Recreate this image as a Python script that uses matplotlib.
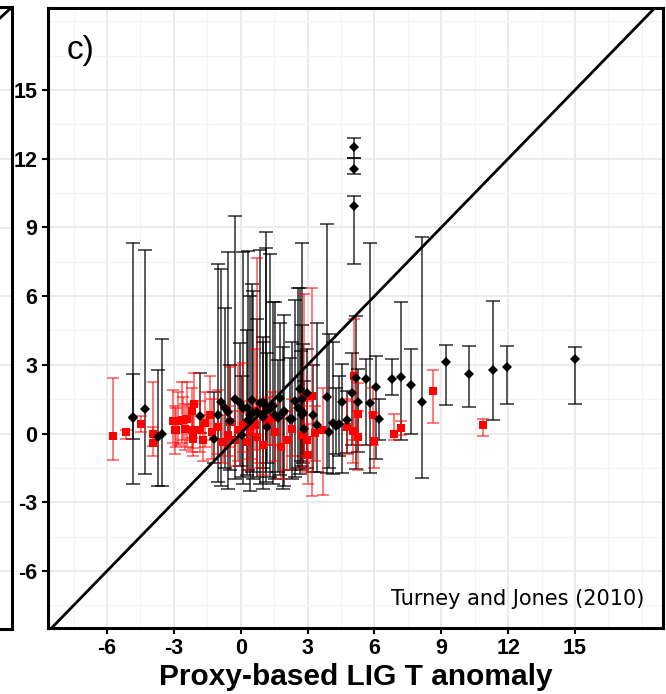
import matplotlib
matplotlib.use("Agg")
import matplotlib.pyplot as plt
from matplotlib.lines import Line2D
import numpy as np

plt.rcParams["axes.unicode_minus"] = False

# ---------------- data ----------------
# black diamonds: model vs proxy (x, y, lower, upper)
blk_x = [-4.85, -4.85, -4.3, -3.72, -3.54, -1.83, -1.18,
         -1.0, -0.88, -0.7, -0.58, -0.48, -0.26, -0.03, 0.04, 0.12, 0.27, 0.34, 0.42,
         0.49, 0.54, 0.72, 0.87, 0.99, 1.01, 1.12, 1.13, 1.17, 1.31, 1.46, 1.54, 1.69,
         1.76, 1.91, 1.96, 2.21, 2.29, 2.43, 2.58, 2.66, 2.7, 2.73, 2.76, 2.81, 2.85,
         2.96, 3.23, 3.44, 3.86, 3.95, 4.14, 4.28, 4.41, 4.53, 4.78, 4.98,
         5.08, 5.08, 5.08, 5.17, 5.24, 5.62, 5.8, 6.08, 6.19,
         6.8, 7.18, 7.63, 8.12, 9.22, 10.23, 11.31, 11.95, 15.0]
blk_y = [0.69, 0.72, 1.07, -0.13, -0.02, 0.77, -0.24,
         0.81, 1.39, 1.1, 0.96, 0.55, 1.51, 1.32, -0.06, 1.1, 1.1, 0.59, 0.81,
         1.47, 0.9, 0.96, 1.32, 1.39, 0.74, 1.0, 1.2, 0.3, 1.07, 1.2, 0.8, 0.67,
         1.54, 0.91, 1.0, 0.62, 0.64, 1.42, 1.1, 1.95, 1.03, 0.8, 1.5, 0.89, 0.19,
         1.79, 0.81, 0.38, 1.61, 0.07, 0.48, 0.35, 0.41, 1.38, 0.59, 1.79,
         12.53, 11.57, 9.94, 2.41, 1.38, 2.38, 1.32, 2.02, 0.62,
         2.38, 2.49, 2.12, 1.38, 3.14, 2.59, 2.78, 2.92, 3.24]
blk_lo = [-2.2, -0.24, -1.75, -2.29, -2.29, 0.02, -1.3,
          -2.1, -2.3, -1.5, -2.4, -1.6, -2.0, -1.4, -1.9, -2.2, -1.8, -1.6, -2.5,
          -1.7, -2.0, -1.9, -2.2, -1.5, -2.4, -1.7, -2.1, -1.3, -1.9, -2.2, -2.0, -1.7,
          -1.8, -2.4, -2.3, -1.6, -2.0, -1.88, -1.5, -1.78, -1.2, -1.4, -1.6, -1.3, -1.0,
          -1.52, -1.7, -1.66, -1.73, -1.5, -1.76, -0.9, -1.0, -1.73, -0.83, -0.5,
          12.02, 11.32, 7.39, -1.55, -0.8, -0.5, -1.73, -1.12, -0.3,
          1.67, -0.28, -0.02, -1.93, 1.25, 1.16, 0.59, 1.29, 1.29]
blk_hi = [8.31, 2.6, 8.03, 2.78, 4.14, 2.66, 1.8,
          7.39, 7.19, 5.5, 7.92, 3.0, 9.5, 3.96, 2.5, 7.92, 4.5, 7.99, 6.0,
          6.52, 6.23, 5.0, 8.02, 4.2, 4.0, 8.12, 8.79, 3.5, 7.83, 5.73, 5.75, 3.2,
          4.82, 3.8, 5.18, 3.3, 4.0, 5.83, 6.37, 6.36, 3.6, 4.72, 8.32, 3.9, 2.3,
          3.7, 3.0, 4.82, 9.13, 4.35, 3.99, 2.0, 2.5, 3.03, 1.86, 3.5,
          12.92, 12.02, 10.35, 5.13, 2.8, 3.26, 8.32, 3.4, 1.5,
          3.27, 5.74, 3.68, 8.6, 3.87, 3.83, 5.8, 3.83, 3.78]

# red squares: second data set (x, y, lower, upper)
red_x = [-5.75, -5.15, -4.47, -3.92, -3.92, -3.05, -2.9, -2.65, -2.5, -2.4, -2.08,
         -2.2, -2.2, -2.15, -2.83, -2.95, -2.57, -2.13, -1.6, -1.38, -1.3, -1.68,
         -1.83, -1.0, -0.78, -0.48, -0.56, -0.11, -0.26, 0.12, 0.42, 0.72, 0.27,
         0.64, 0.75, 1.0, 1.24, 1.39, 1.54, 1.8, 2.06, 2.3, 2.74, 2.85, 2.96, 3.03,
         3.2, 3.33, 3.71, 4.78, 5.05, 5.1, 5.26, 5.28, 5.95, 5.98,
         6.9, 7.19, 8.64, 10.86]
red_y = [-0.09, 0.08, 0.41, -0.03, -0.42, 0.55, 0.16, 0.59, 0.2, 0.62, 1.29,
         0.99, 0.16, -0.25, 0.55, 0.16, 0.59, 0.08, 0.45, 0.81, 0.08, -0.28,
         0.16, 0.3, -0.35, 0.52, -0.06, 0.16, -0.28, 0.38, 0.08, -0.13, -0.35,
         0.38, 1.0, -0.5, 0.52, 0.67, 0.08, -0.6, -0.28, 0.2, -0.06, 1.61, -0.28, -0.93,
         1.66, 0.01, 0.16, 0.3, 0.11, 2.5, 0.84, -0.16, 0.81, -0.31,
         -0.03, 0.26, 1.86, 0.36]
red_lo = [-1.15, -0.24, 0.06, -0.54, -0.98, -0.41, -0.6, -0.41, -0.7, -0.57, 0.3,
          -0.2, -0.8, -0.64, -0.5, -0.9, -0.3, -1.0, -0.6, -0.3, -1.1, -1.2,
          -0.8, -0.9, -1.3, -0.6, -1.0, -1.2, -1.4, -0.8, -1.1, -1.3, -1.6,
          -0.7, -1.5, -1.8, -0.5, -0.5, -1.2, -2.0, -1.6, -1.0, -1.5, -1.0, -1.7, -2.2,
          -2.72, -1.2, -2.68, -0.9, -1.3, -0.3, -0.5, -1.6, -0.5, -1.5,
          -0.3, -0.05, 0.45, -0.1]
red_hi = [2.41, 0.15, 0.78, 2.27, 0.3, 1.9, 1.1, 2.27, 1.3, 2.27, 2.63,
          2.0, 1.2, 0.3, 1.8, 1.2, 1.6, 1.3, 1.8, 2.5, 1.5, 0.8,
          1.4, 1.9, 0.8, 2.9, 1.2, 3.0, 1.0, 3.1, 1.4, 1.1, 0.9,
          3.7, 7.66, 0.6, 1.6, 1.8, 1.3, 0.7, 1.0, 1.5, 1.2, 6.08, 1.4, 0.4,
          6.34, 1.2, 2.0, 1.5, 1.4, 5.0, 2.2, 1.0, 2.0, 0.9,
          0.87, 0.55, 2.79, 0.64]

x_ticks = [-6, -3, 0, 3, 6, 9, 12, 15]
y_ticks = [-6, -3, 0, 3, 6, 9, 12, 15]
minor_ticks = [-7.5, -4.5, -1.5, 1.5, 4.5, 7.5, 10.5, 13.5, 16.5, 18]
xlim = (-8.65, 18.95)
ylim = (-8.49, 18.58)

# ---------------- figure ----------------
W, H = 666, 694
fig = plt.figure(figsize=(W / 100, H / 100), dpi=100)
L, R, T, B = 48, 663, 8, 628
ax = fig.add_axes([L / W, 1 - B / H, (R - L) / W, (B - T) / H])
ax.set_facecolor("white")

ax.set_xlim(*xlim)
ax.set_ylim(*ylim)
ax.set_xticks(x_ticks)
ax.set_yticks(y_ticks)
ax.set_xticks(minor_ticks, minor=True)
ax.set_yticks(minor_ticks, minor=True)
ax.grid(which="major", color="#E6E6E6", linewidth=1.1, zorder=0)
ax.grid(which="minor", color="#F4F4F4", linewidth=0.9, zorder=0)
ax.set_axisbelow(True)
ax.tick_params(which="minor", length=0)
ax.tick_params(which="major", length=4.5, width=1.5, direction="out", pad=3,
               labelsize=15.5)
for lab in ax.get_xticklabels() + ax.get_yticklabels():
    lab.set_fontfamily("Liberation Sans")
    lab.set_fontweight("bold")
for s in ax.spines.values():
    s.set_linewidth(2.2)
    s.set_color("black")

# 1:1 line
ax.plot([-10, 20], [-10, 20], color="black", linewidth=2.0, zorder=6,
        solid_capstyle="butt")

bx = np.array(blk_x); by = np.array(blk_y)
berr = [by - np.array(blk_lo), np.array(blk_hi) - by]
rx = np.array(red_x); ry = np.array(red_y)
rerr = [ry - np.array(red_lo), np.array(red_hi) - ry]

ax.errorbar(bx, by, yerr=berr, fmt="none", ecolor=(0, 0, 0, 0.75),
            elinewidth=1.2, capsize=5, capthick=1.2, zorder=2)
ax.errorbar(rx, ry, yerr=rerr, fmt="none", ecolor=(1, 0, 0, 0.6),
            elinewidth=1.2, capsize=4.5, capthick=1.2, zorder=3)
ax.plot(rx, ry, "s", color="#FF0000", markersize=5.5, markeredgewidth=0,
        zorder=4)
ax.plot(bx, by, "D", color="black", markersize=4.8, markeredgewidth=0,
        zorder=5)

ax.text(0.031, 0.932, "c)", transform=ax.transAxes, fontsize=24,
        family="Liberation Sans", ha="left", va="center")
ax.text(0.97, 0.03, "Turney and Jones (2010)", transform=ax.transAxes,
        fontsize=15, family="DejaVu Sans", ha="right", va="bottom")

ax.set_xlabel("Proxy-based LIG T anomaly", fontsize=21.5, fontweight="bold",
              family="Liberation Sans", labelpad=2.5)

# partial neighbouring panel on the left edge
def fx(px):
    return px / W

def fy(py):
    return 1 - py / H

for yv in y_ticks:
    py = 433.6 - yv * 22.9
    fig.add_artist(Line2D([0, fx(11)], [fy(py), fy(py)], color="#E6E6E6",
                          linewidth=1.1, transform=fig.transFigure))
fig.add_artist(Line2D([fx(12), fx(12)], [fy(7), fy(629)], color="black",
                      linewidth=2.2, transform=fig.transFigure))
fig.add_artist(Line2D([0, fx(12)], [fy(7), fy(7)], color="black",
                      linewidth=2.2, transform=fig.transFigure))
fig.add_artist(Line2D([0, fx(12)], [fy(629), fy(629)], color="black",
                      linewidth=2.2, transform=fig.transFigure))
fig.add_artist(Line2D([0, fx(11)], [fy(18), fy(8)], color="black",
                      linewidth=2.0, transform=fig.transFigure))

fig.savefig("out.png", dpi=100, facecolor="white")
